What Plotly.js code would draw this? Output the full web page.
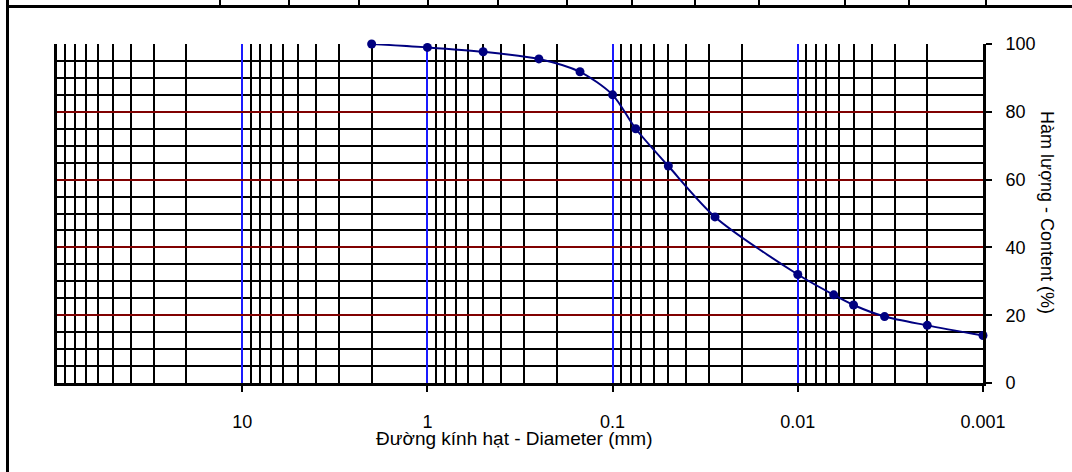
<!DOCTYPE html>
<html><head><meta charset="utf-8">
<script src="https://cdn.plot.ly/plotly-3.0.1.min.js"></script>
<style>
html,body{margin:0;padding:0;background:#fff;overflow:hidden}
#wrap{position:relative;width:1072px;height:472px}
#chart{position:absolute;left:0;top:0;width:1072px;height:472px}
.b{position:absolute;background:#000}
</style></head><body>
<div id="wrap"><div id="chart"></div></div>
<script>
// ---- data ----
const diameterMm = [2, 1, 0.5, 0.25, 0.15, 0.1, 0.075, 0.05, 0.028, 0.01, 0.0064, 0.005, 0.0034, 0.002, 0.001];
const contentPct = [100, 99, 97.7, 95.6, 91.8, 85, 75, 64, 49, 32, 26, 23, 19.6, 17, 14];
const xTickVals = [10, 1, 0.1, 0.01, 0.001];
const xTickText = ['10', '1', '0.1', '0.01', '0.001'];
const yTickVals = [0, 20, 40, 60, 80, 100];
const yTickText = ['0', '20', '40', '60', '80', '100'];
const xTitle = 'Đường kính hạt - Diameter (mm)';
const yTitle = 'Hàm lượng - Content (%)';
const decadeExponents = [-3, -2, -1, 0, 1];
const minorMultipliers = [2, 3, 4, 5, 6, 7, 8, 9];

// ---- page frame (cropped spreadsheet borders) ----
const tableDividerX = [220, 289, 359, 428, 498, 567, 632, 695, 759, 845, 909, 986];
const wrap = document.getElementById('wrap');
function bar(l, t, w, h) { const d = document.createElement('div'); d.className = 'b'; d.style.left = l + 'px'; d.style.top = t + 'px'; d.style.width = w + 'px'; d.style.height = h + 'px'; wrap.appendChild(d); }
bar(6, 0, 3, 472);
bar(6, 5, 1066, 3);
tableDividerX.forEach(x => bar(x - 1, 0, 2, 6));

const minorX = [];
decadeExponents.forEach(e => minorMultipliers.forEach(m => minorX.push(m * Math.pow(10, e))));

const FONT = '"Liberation Sans", Arial, sans-serif';

const trace = {
  x: diameterMm, y: contentPct, type: 'scatter', mode: 'lines+markers',
  line: {color: '#000080', width: 2, shape: 'spline', smoothing: 0.8},
  marker: {color: '#000080', size: 9},
  hoverinfo: 'x+y', cliponaxis: false
};

const layout = {
  width: 1072, height: 472,
  margin: {l: 57, r: 89, t: 44, b: 89},
  paper_bgcolor: 'rgba(0,0,0,0)', plot_bgcolor: '#fff',
  showlegend: false,
  font: {family: FONT, size: 18, color: '#000'},
  xaxis: {
    type: 'log', range: [2, -3], autorange: false,
    tickmode: 'array', tickvals: xTickVals, ticktext: xTickText,
    ticks: 'outside', ticklen: 6, tickwidth: 2, tickcolor: '#000',
    ticklabelstandoff: 14,
    showgrid: true, gridcolor: '#1a1aff', gridwidth: 2,
    minor: {tickmode: 'array', tickvals: minorX, showgrid: true, gridcolor: '#000', gridwidth: 2, ticks: ''},
    showline: true, linecolor: '#000', linewidth: 3,
    zeroline: false, tickfont: {family: FONT, size: 18, color: '#000'}
  },
  yaxis: {
    side: 'right', range: [0, 100], autorange: false,
    tickmode: 'array', tickvals: yTickVals, ticktext: yTickText,
    ticks: 'outside', ticklen: 6, tickwidth: 2, tickcolor: '#000',
    ticklabelstandoff: 10,
    showgrid: true, gridcolor: '#800000', gridwidth: 2,
    minor: {dtick: 5, showgrid: true, gridcolor: '#000', gridwidth: 2, ticks: ''},
    showline: true, linecolor: '#000', linewidth: 3, mirror: true,
    zeroline: false, tickfont: {family: FONT, size: 18, color: '#000'}
  },
  annotations: [
    {text: xTitle, xref: 'paper', yref: 'paper', x: 0.4935, y: -0.164, xanchor: 'center', yanchor: 'middle', showarrow: false, font: {family: FONT, size: 19, color: '#000'}},
    {text: yTitle, xref: 'paper', yref: 'paper', x: 1.069, y: 0.5015, xanchor: 'center', yanchor: 'middle', textangle: 90, showarrow: false, font: {family: FONT, size: 18, color: '#000'}}
  ]
};

Plotly.newPlot('chart', [trace], layout, {staticPlot: true, displayModeBar: false});
</script>
</body></html>
